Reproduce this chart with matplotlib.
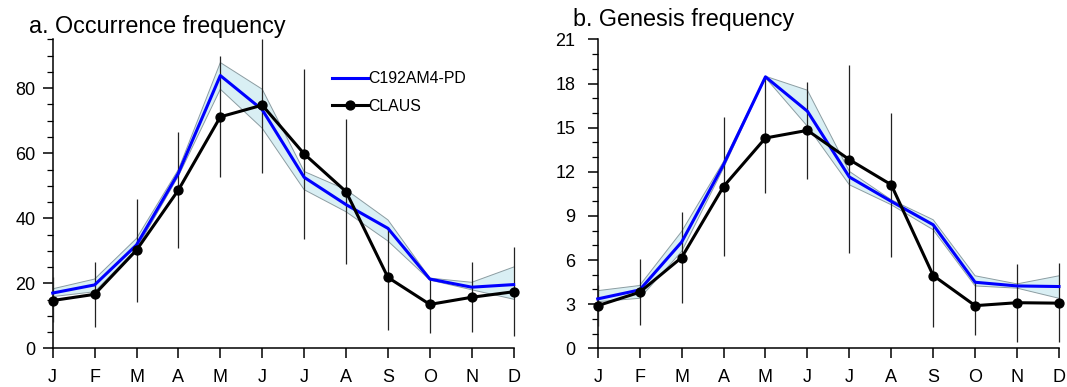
import numpy as np
import matplotlib
matplotlib.use("Agg")
import matplotlib.pyplot as plt
from matplotlib.ticker import MultipleLocator

plt.rcParams['font.family'] = ['Liberation Sans', 'DejaVu Sans']

months = ['J', 'F', 'M', 'A', 'M', 'J', 'J', 'A', 'S', 'O', 'N', 'D']

# Panel a: occurrence frequency
occ_model = [17.0, 19.5, 31.8, 53.9, 83.9, 73.4, 52.6, 44.2, 36.9, 21.3, 18.8, 19.6]
occ_model_lo = [15.9, 17.4, 30.6, 53.0, 79.7, 67.7, 48.8, 42.0, 33.0, 21.0, 18.0, 15.1]
occ_model_hi = [18.3, 21.3, 33.8, 55.0, 87.9, 79.7, 54.4, 48.8, 39.5, 21.6, 20.3, 25.0]
occ_claus = [14.7, 16.6, 30.2, 48.7, 71.2, 74.8, 59.8, 48.2, 21.8, 13.5, 15.7, 17.4]
occ_claus_lo = [8.0, 6.7, 14.2, 30.8, 52.7, 53.9, 33.7, 26.0, 5.6, 4.8, 5.1, 3.8]
occ_claus_hi = [22.0, 26.6, 46.0, 66.6, 89.9, 95.0, 86.0, 70.4, 36.9, 21.3, 26.5, 31.1]

# Panel b: genesis frequency
gen_model = [3.36, 3.97, 7.22, 12.49, 18.46, 16.12, 11.65, 9.99, 8.40, 4.49, 4.24, 4.20]
gen_model_lo = [3.17, 3.40, 6.58, 12.26, 18.40, 15.10, 11.12, 9.76, 8.06, 4.24, 4.09, 3.40]
gen_model_hi = [3.92, 4.27, 7.94, 12.70, 18.50, 17.55, 12.03, 10.10, 8.74, 4.93, 4.38, 4.93]
gen_claus = [2.90, 3.81, 6.17, 11.00, 14.30, 14.82, 12.83, 11.12, 4.95, 2.90, 3.10, 3.07]
gen_claus_lo = [1.5, 1.59, 3.10, 6.29, 10.56, 11.50, 6.47, 6.20, 1.47, 0.90, 0.45, 0.40]
gen_claus_hi = [4.3, 6.08, 9.26, 15.70, 18.40, 18.10, 19.25, 16.00, 8.40, 4.50, 5.72, 5.80]

titles = ['a. Occurrence frequency', 'b. Genesis frequency']
legend_labels = ['C192AM4-PD', 'CLAUS']

fig = plt.figure(figsize=(10.67, 3.87), dpi=100)
axa = fig.add_axes([0.0494, 0.1, 0.4320, 0.798])
axb = fig.add_axes([0.5602, 0.1, 0.4323, 0.798])

x = np.arange(len(months))

def draw(ax, model, lo, hi, claus, clo, chi, ymax, major, minor, ypad):
    ax.fill_between(x, lo, hi, facecolor='#d9eff4', edgecolor='none', zorder=1)
    ax.plot(x, lo, color='#8c9da2', lw=0.7, zorder=2)
    ax.plot(x, hi, color='#8c9da2', lw=0.7, zorder=2)
    ax.vlines(x, clo, chi, color='#222222', lw=0.9, zorder=3, clip_on=False)
    l1, = ax.plot(x, model, color='#0000ff', lw=2.2, zorder=4, label=legend_labels[0],
                  clip_on=False)
    l2, = ax.plot(x, claus, color='black', lw=2.2, marker='o', ms=6.4, zorder=5,
                  label=legend_labels[1], clip_on=False)
    ax.set_xlim(0, 11)
    ax.set_ylim(0, ymax)
    ax.set_xticks(x)
    ax.set_xticklabels(months)
    ax.yaxis.set_major_locator(MultipleLocator(major))
    ax.yaxis.set_minor_locator(MultipleLocator(minor))
    for s in ['top', 'right']:
        ax.spines[s].set_visible(False)
    for s in ['left', 'bottom']:
        ax.spines[s].set_linewidth(1.1)
    ax.tick_params(axis='x', direction='out', length=7.2, width=1.1, labelsize=13, pad=7.8)
    ax.tick_params(axis='y', which='major', direction='out', length=7.5, width=1.1,
                   labelsize=13, pad=ypad)
    ax.tick_params(axis='y', which='minor', direction='out', length=4, width=0.9)
    return l1, l2

l1, l2 = draw(axa, occ_model, occ_model_lo, occ_model_hi, occ_claus, occ_claus_lo,
              occ_claus_hi, 95, 20, 5, 5)
draw(axb, gen_model, gen_model_lo, gen_model_hi, gen_claus, gen_claus_lo,
     gen_claus_hi, 21, 3, 1, 8.5)

axa.legend(handles=[l1, l2], loc='upper left', bbox_to_anchor=(0.605, 0.897),
           frameon=False, fontsize=11.4, handlelength=2.3, handletextpad=0.0,
           borderpad=0, borderaxespad=0, labelspacing=0.78)

fig.text(0.0268, 0.914, titles[0], fontsize=16.8, va='baseline', ha='left')
fig.text(0.5371, 0.9328, titles[1], fontsize=16.8, va='baseline', ha='left')

fig.savefig('out.png', dpi=100)
